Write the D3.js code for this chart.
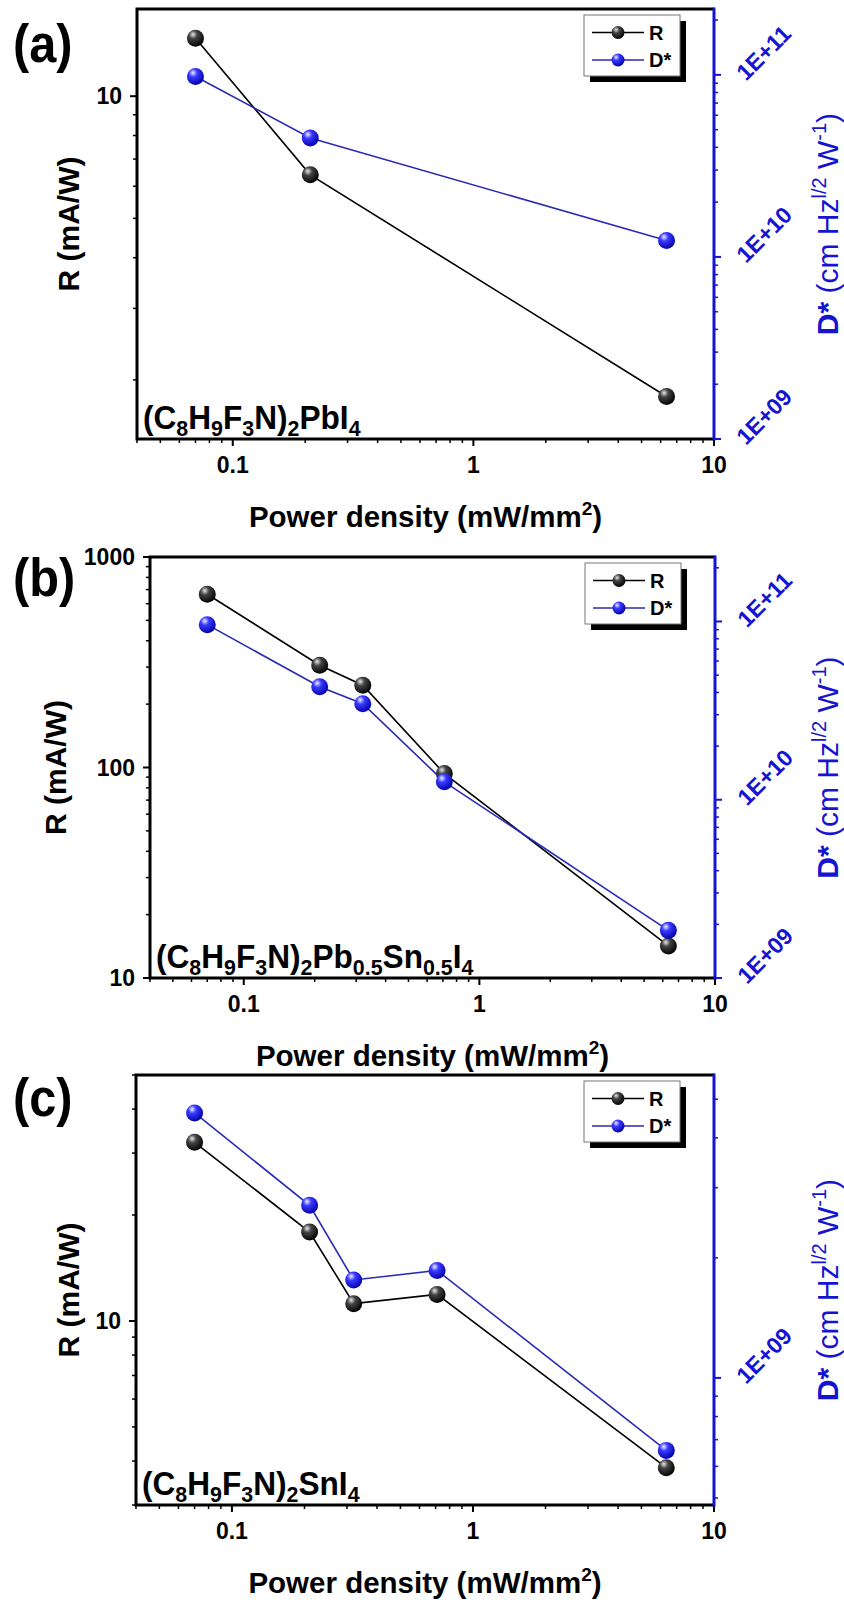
<!DOCTYPE html>
<html>
<head>
<meta charset="utf-8">
<script src="https://cdn.jsdelivr.net/npm/d3@7"></script>
<style>
  body { margin: 0; background: #fff; }
  svg { display: block; font-family: "Liberation Sans", Arial, sans-serif; }
</style>
</head>
<body>
<div id="chart"></div>
<script>
// data
var powerA = [0.07, 0.21, 6.35];
var respA = [13.9, 6.4, 1.82];
var detA = [9.8e10, 4.5e10, 1.23e10];

var powerBC = [0.07, 0.21, 0.32, 0.71, 6.34];
var respB = [665, 306, 246, 93.6, 14.2];
var detB = [9.6e10, 4.3e10, 3.46e10, 1.26e10, 1.85e9];

var respC = [32.2, 17.9, 11.2, 11.9, 3.83];
var detC = [4.62e9, 2.71e9, 1.76e9, 1.86e9, 6.58e8];

// tick labels
var xTickVals = [0.1, 1, 10];
var xTickLabels = ["0.1", "1", "10"];
var rTicksA = [10], rLabelsA = ["10"];
var rTicksB = [10, 100, 1000], rLabelsB = ["10", "100", "1000"];
var rTicksC = [10], rLabelsC = ["10"];
var dTicksAB = [1e9, 1e10, 1e11], dLabelsAB = ["1E+09", "1E+10", "1E+11"];
var dTicksC = [1e9], dLabelsC = ["1E+09"];

// formula labels, [text, isSubscript]
var formulaA = [["(C", 0], ["8", 1], ["H", 0], ["9", 1], ["F", 0], ["3", 1], ["N)", 0], ["2", 1], ["PbI", 0], ["4", 1]];
var formulaB = [["(C", 0], ["8", 1], ["H", 0], ["9", 1], ["F", 0], ["3", 1], ["N)", 0], ["2", 1], ["Pb", 0], ["0.5", 1], ["Sn", 0], ["0.5", 1], ["I", 0], ["4", 1]];
var formulaC = [["(C", 0], ["8", 1], ["H", 0], ["9", 1], ["F", 0], ["3", 1], ["N)", 0], ["2", 1], ["SnI", 0], ["4", 1]];

var BLUE = "#1414d2";
var BLUELINE = "#2a2ab4";

var panels = [
  { tag: "(a)", left: 137, right: 714, top: 9, bottom: 439, letterY: 62, rTitleX: 79,
    x: powerA, r: respA, d: detA, rDom: [1.43, 16.4], dDom: [1e9, 2.3e11],
    rTicks: rTicksA, rLabels: rLabelsA, dTicks: dTicksAB, dLabels: dLabelsAB, formula: formulaA },
  { tag: "(b)", left: 150, right: 715, top: 557, bottom: 978, letterY: 596, rTitleX: 66,
    x: powerBC, r: respB, d: detB, rDom: [10, 1000], dDom: [1e9, 2.3e11],
    rTicks: rTicksB, rLabels: rLabelsB, dTicks: dTicksAB, dLabels: dLabelsAB, formula: formulaB },
  { tag: "(c)", left: 136, right: 714, top: 1075, bottom: 1505, letterY: 1116, rTitleX: 79,
    x: powerBC, r: respC, d: detC, rDom: [3, 50], dDom: [4.8e8, 5.75e9],
    rTicks: rTicksC, rLabels: rLabelsC, dTicks: dTicksC, dLabels: dLabelsC, formula: formulaC }
];

var svg = d3.select("#chart").append("svg")
  .attr("width", 844)
  .attr("height", 1602);

// sphere look for markers
var defs = svg.append("defs");
function sphere(id, light, mid, dark) {
  var g = defs.append("radialGradient").attr("id", id)
    .attr("cx", "38%").attr("cy", "32%").attr("r", "70%")
    .attr("fx", "35%").attr("fy", "28%");
  g.append("stop").attr("offset", "0%").attr("stop-color", light);
  g.append("stop").attr("offset", "35%").attr("stop-color", mid);
  g.append("stop").attr("offset", "100%").attr("stop-color", dark);
}
sphere("ballBlack", "#e8e8e8", "#444", "#000");
sphere("ballBlue", "#eef", "#3a3aff", "#0000a8");

// minor + major log ticks inside a domain
function logTicks(dom) {
  var out = [];
  var lo = Math.floor(Math.log10(dom[0])), hi = Math.ceil(Math.log10(dom[1]));
  for (var e = lo; e <= hi; e++) {
    for (var k = 1; k <= 9; k++) {
      var v = k * Math.pow(10, e);
      if (v >= dom[0] * 0.999 && v <= dom[1] * 1.001) out.push({ v: v, major: k == 1 });
    }
  }
  return out;
}

function drawFormula(g, parts, x, y) {
  var t = g.append("text")
    .attr("transform", "translate(" + x + "," + y + ") scale(0.93,1)")
    .attr("font-size", 34).attr("font-weight", "bold").attr("fill", "#000");
  var shifted = false;
  parts.forEach(function (p) {
    var ts = t.append("tspan").text(p[0]);
    if (p[1]) {
      ts.attr("font-size", 23).attr("dy", shifted ? 0 : 7);
      shifted = true;
    } else {
      ts.attr("dy", shifted ? -7 : 0);
      shifted = false;
    }
  });
}

panels.forEach(function (p) {
  var g = svg.append("g");
  var x = d3.scaleLog().domain([0.04, 10]).range([p.left, p.right]);
  var yL = d3.scaleLog().domain(p.rDom).range([p.bottom, p.top]);
  var yR = d3.scaleLog().domain(p.dDom).range([p.bottom, p.top]);

  // bottom ticks
  logTicks(x.domain()).forEach(function (t) {
    g.append("line")
      .attr("x1", x(t.v)).attr("x2", x(t.v))
      .attr("y1", p.bottom).attr("y2", p.bottom + (t.major ? 7 : 4))
      .attr("stroke", "#000").attr("stroke-width", t.major ? 2 : 1.5);
  });
  xTickVals.forEach(function (v, i) {
    g.append("text").attr("x", x(v)).attr("y", p.bottom + 34)
      .attr("text-anchor", "middle").attr("font-size", 23).attr("font-weight", "bold")
      .text(xTickLabels[i]);
  });

  // left ticks
  logTicks(p.rDom).forEach(function (t) {
    g.append("line")
      .attr("x1", p.left).attr("x2", p.left - (t.major ? 7 : 4))
      .attr("y1", yL(t.v)).attr("y2", yL(t.v))
      .attr("stroke", "#000").attr("stroke-width", t.major ? 2 : 1.5);
  });
  p.rTicks.forEach(function (v, i) {
    g.append("text").attr("x", p.left - 15).attr("y", yL(v)).attr("dy", "0.36em")
      .attr("text-anchor", "end").attr("font-size", 23).attr("font-weight", "bold")
      .text(p.rLabels[i]);
  });

  // right ticks (blue)
  logTicks(p.dDom).forEach(function (t) {
    g.append("line")
      .attr("x1", p.right).attr("x2", p.right + (t.major ? 7 : 4))
      .attr("y1", yR(t.v)).attr("y2", yR(t.v))
      .attr("stroke", BLUE).attr("stroke-width", t.major ? 2 : 1.5);
  });
  p.dTicks.forEach(function (v, i) {
    g.append("text")
      .attr("transform", "translate(" + (p.right + 32) + "," + (yR(v) + 7) + ") rotate(-45)")
      .attr("font-size", 23).attr("font-weight", "bold").attr("fill", BLUE)
      .text(p.dLabels[i]);
  });

  // frame
  g.append("path")
    .attr("d", "M" + p.right + "," + p.top + "H" + p.left + "V" + p.bottom + "H" + p.right)
    .attr("fill", "none").attr("stroke", "#000").attr("stroke-width", 3);
  g.append("line")
    .attr("x1", p.right).attr("x2", p.right).attr("y1", p.top - 1.5).attr("y2", p.bottom + 1.5)
    .attr("stroke", BLUE).attr("stroke-width", 3);

  // series
  var rPts = p.x.map(function (v, i) { return [v, p.r[i]]; });
  var dPts = p.x.map(function (v, i) { return [v, p.d[i]]; });
  var lineR = d3.line().x(function (d) { return x(d[0]); }).y(function (d) { return yL(d[1]); });
  var lineD = d3.line().x(function (d) { return x(d[0]); }).y(function (d) { return yR(d[1]); });

  g.append("path").datum(rPts).attr("d", lineR)
    .attr("fill", "none").attr("stroke", "#000").attr("stroke-width", 1.6);
  g.selectAll(".ptR").data(rPts).enter().append("circle")
    .attr("cx", function (d) { return x(d[0]); })
    .attr("cy", function (d) { return yL(d[1]); })
    .attr("r", 8.5).attr("fill", "url(#ballBlack)");

  g.append("path").datum(dPts).attr("d", lineD)
    .attr("fill", "none").attr("stroke", BLUELINE).attr("stroke-width", 1.6);
  g.selectAll(".ptD").data(dPts).enter().append("circle")
    .attr("cx", function (d) { return x(d[0]); })
    .attr("cy", function (d) { return yR(d[1]); })
    .attr("r", 8.5).attr("fill", "url(#ballBlue)");

  // legend
  var lx = p.right - 130, ly = p.top + 6;
  g.append("rect").attr("x", lx + 6).attr("y", ly + 6).attr("width", 96).attr("height", 61).attr("fill", "#000");
  g.append("rect").attr("x", lx).attr("y", ly).attr("width", 96).attr("height", 61)
    .attr("fill", "#fff").attr("stroke", "#777").attr("stroke-width", 1);
  [["R", "#000", "url(#ballBlack)", 17.5], ["D*", BLUELINE, "url(#ballBlue)", 45]].forEach(function (it) {
    var yy = ly + it[3];
    g.append("line").attr("x1", lx + 8).attr("x2", lx + 60).attr("y1", yy).attr("y2", yy)
      .attr("stroke", it[1]).attr("stroke-width", 1.6);
    g.append("circle").attr("cx", lx + 34).attr("cy", yy).attr("r", 6.5).attr("fill", it[2]);
    g.append("text").attr("x", lx + 65).attr("y", yy + 7)
      .attr("font-size", 20).attr("font-weight", "bold").text(it[0]);
  });

  // formula
  drawFormula(g, p.formula, p.left + 6, p.bottom - 10);

  // panel letter
  g.append("text")
    .attr("transform", "translate(13," + p.letterY + ") scale(0.92,1)")
    .attr("font-size", 53).attr("font-weight", "bold").text(p.tag);

  // axis titles
  var cx = (p.left + p.right) / 2, cy = (p.top + p.bottom) / 2;
  var xt = g.append("text").attr("x", cx).attr("y", p.bottom + 88)
    .attr("text-anchor", "middle").attr("font-size", 29.5).attr("font-weight", "bold");
  xt.append("tspan").text("Power density (mW/mm");
  xt.append("tspan").attr("font-size", 19).attr("dy", -12).text("2");
  xt.append("tspan").attr("dy", 12).text(")");

  g.append("text")
    .attr("transform", "translate(" + p.rTitleX + "," + cy + ") rotate(-90)")
    .attr("text-anchor", "middle").attr("font-size", 30).attr("font-weight", "bold")
    .text("R (mA/W)");

  var dt = g.append("text")
    .attr("transform", "translate(838," + cy + ") rotate(-90)")
    .attr("text-anchor", "middle").attr("font-size", 30).attr("fill", BLUE);
  dt.append("tspan").attr("font-weight", "bold").text("D*");
  dt.append("tspan").text(" (cm Hz");
  dt.append("tspan").attr("font-size", 20).attr("dy", -12).text("l/2");
  dt.append("tspan").attr("dy", 12).text(" W");
  dt.append("tspan").attr("font-size", 20).attr("dy", -12).text("-1");
  dt.append("tspan").attr("dy", 12).text(")");
});
</script>
</body>
</html>
